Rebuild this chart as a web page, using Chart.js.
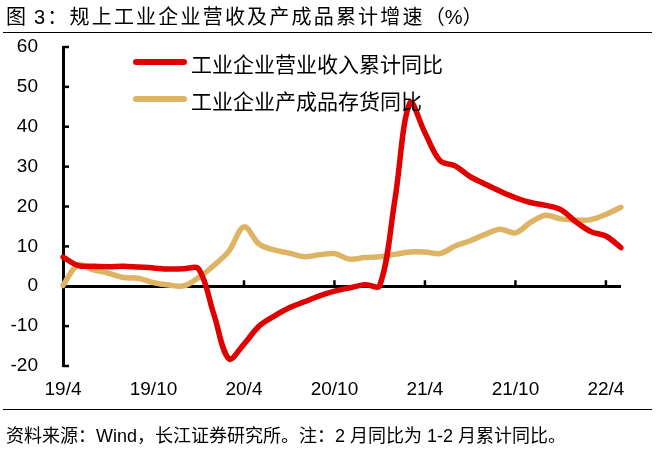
<!DOCTYPE html>
<html><head><meta charset="utf-8">
<script src="https://cdn.jsdelivr.net/npm/chart.js@4/dist/chart.umd.min.js"></script>
<style>
html,body{margin:0;padding:0;background:#fff;}
#wrap{position:relative;width:660px;height:454px;overflow:hidden;font-family:"Liberation Sans","Noto Sans CJK SC",sans-serif;color:#000;}
#c{position:absolute;left:0;top:0;}
.title{position:absolute;left:6px;top:5px;font-size:20px;line-height:24px;letter-spacing:2.2px;word-spacing:-2px;white-space:nowrap;}
.title .pc{letter-spacing:0;}
.rule{position:absolute;left:3px;width:649px;height:0;border-top:1.5px solid #000;}
.foot{position:absolute;left:6px;top:425px;font-size:18px;line-height:22px;white-space:nowrap;}
.leg{position:absolute;left:133px;height:24px;white-space:nowrap;}
.leg .ln{position:absolute;left:0;width:54px;height:6px;top:8px;border-radius:3px;}
.leg .tx{position:absolute;left:58px;top:0;font-size:21px;line-height:24px;font-family:"Noto Sans CJK SC",sans-serif;}
</style></head>
<body>
<div id="wrap">
  <canvas id="c" width="660" height="454"></canvas>
  <div class="title">图 3：规上工业企业营收及产成品累计增速<span class="pc">（%）</span></div>
  <div class="rule" style="top:32px"></div>
  <div id="legend"></div>
  <div class="rule" style="top:409px"></div>
  <div class="foot">资料来源：Wind，长江证券研究所。注：2 月同比为 1-2 月累计同比。</div>
</div>
<script>
const months = ["19/4","19/5","19/6","19/7","19/8","19/9","19/10","19/11","19/12",
  "20/1","20/2","20/3","20/4","20/5","20/6","20/7","20/8","20/9","20/10","20/11","20/12",
  "21/1","21/2","21/3","21/4","21/5","21/6","21/7","21/8","21/9","21/10","21/11","21/12",
  "22/1","22/2","22/3","22/4","22/5"];
const tickLabels = ["19/4","19/10","20/4","20/10","21/4","21/10","22/4"];
const seriesNames = ["工业企业营业收入累计同比","工业企业产成品存货同比"];
const revenueGrowth = [7.3,5.2,5.0,4.9,5.0,4.8,4.6,4.3,4.4,
  4.3,-7.0,-18.2,-14.5,-10.0,-7.5,-5.4,-3.9,-2.4,-1.2,-0.4,0.4,
  0.2,21.5,46.0,38.5,31.5,30.2,27.5,25.6,23.8,22.2,21.0,20.3,
  19.2,16.2,13.7,12.6,9.7];
const inventoryGrowth = [0.2,5.4,4.1,3.3,2.2,2.0,0.9,0.3,0.1,
  2.2,5.2,8.8,14.9,10.6,9.1,8.3,7.4,7.9,8.2,6.8,7.2,
  7.4,8.0,8.6,8.6,8.2,10.1,11.4,13.0,14.3,13.4,16.0,17.8,
  16.9,16.6,16.7,18.0,19.8];

const colors = ["#E10000","#DDB463"];

// HTML legend
const legEl = document.getElementById('legend');
seriesNames.forEach((n,i)=>{
  const d = document.createElement('div');
  d.className='leg';
  d.style.top = (i===0?51:87.5)+'px';
  d.innerHTML = '<span class="ln" style="background:'+colors[i]+'"></span><span class="tx">'+n+'</span>';
  legEl.appendChild(d);
});

const axisMarks = {
  id:'axisMarks',
  beforeDatasetsDraw(chart){
    const {ctx, chartArea, scales:{x,y}} = chart;
    ctx.save();
    ctx.strokeStyle='#000'; ctx.lineWidth=2.5;
    const y0 = y.getPixelForValue(0);
    months.forEach((m,i)=>{
      if(tickLabels.includes(m) && i>0){
        const px = x.getPixelForValue(i);
        ctx.beginPath(); ctx.moveTo(px,y0); ctx.lineTo(px,y0-6); ctx.stroke();
      }
    });
    y.ticks.forEach(t=>{
      const py = y.getPixelForValue(t.value);
      ctx.beginPath(); ctx.moveTo(chartArea.left,py); ctx.lineTo(chartArea.left+6,py); ctx.stroke();
    });
    ctx.restore();
  }
};

new Chart(document.getElementById('c'), {
  type:'line',
  data:{
    labels: months,
    datasets:[
      {label:seriesNames[0], data:revenueGrowth, borderColor:colors[0], backgroundColor:colors[0],
       borderWidth:5.5, pointRadius:0, tension:0.35, borderCapStyle:'round', borderJoinStyle:'round', fill:false},
      {label:seriesNames[1], data:inventoryGrowth, borderColor:colors[1], backgroundColor:colors[1],
       borderWidth:5.5, pointRadius:0, tension:0.35, borderCapStyle:'round', borderJoinStyle:'round', fill:false}
    ]
  },
  options:{
    responsive:false, animation:false,
    layout:{padding:{left:0,top:47,right:39,bottom:0}},
    plugins:{legend:{display:false}, tooltip:{enabled:false}},
    scales:{
      x:{
        grid:{display:false, drawTicks:false},
        border:{display:false},
        ticks:{autoSkip:false, maxRotation:0, minRotation:0, padding:12, color:'#000',
          font:{family:'"Liberation Sans", Arial, sans-serif', size:19},
          callback:function(v,i){ const l = months[i]; return tickLabels.includes(l) ? l : null; }},
        afterFit:(s)=>{ s.height = 88; }
      },
      y:{
        min:-20, max:60,
        grid:{drawTicks:false,
          color:(c)=> (c.tick && c.tick.value===0) ? '#000' : 'rgba(0,0,0,0)',
          lineWidth:(c)=> (c.tick && c.tick.value===0) ? 3 : 1},
        border:{display:true, color:'#000', width:3},
        ticks:{stepSize:10, padding:25, color:'#000',
          font:{family:'"Liberation Sans", Arial, sans-serif', size:19}},
        afterFit:(s)=>{ s.width = 63; }
      }
    }
  },
  plugins:[axisMarks]
});
</script>
</body></html>
